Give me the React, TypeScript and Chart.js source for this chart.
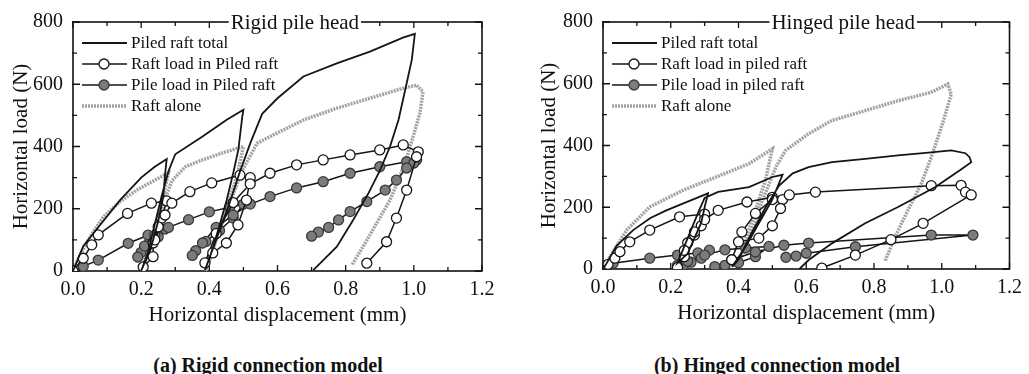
import React, { useEffect, useRef } from "react";
import { Chart, registerables } from "chart.js";
Chart.register(...registerables);

// ---------- axis ticks ----------
const xTickValues = [0, 0.2, 0.4, 0.6, 0.8, 1.0, 1.2];
const yTickValues = [0, 200, 400, 600, 800];

// ---------- series labels ----------
const rigidLabels = ["Piled raft total", "Raft load in Piled raft", "Pile load in Piled raft", "Raft alone"];
const hingedLabels = ["Piled raft total", "Raft load in piled raft", "Pile load in piled raft", "Raft alone"];

// ---------- (a) Rigid pile head ----------
const rigidTotalX = [0, 0.03, 0.07, 0.14, 0.2, 0.24, 0.275, 0.27, 0.265, 0.25, 0.23, 0.2, 0.22, 0.24, 0.26, 0.28, 0.3, 0.38, 0.45, 0.5, 0.497, 0.485, 0.47, 0.451, 0.426, 0.402, 0.387, 0.42, 0.46, 0.49, 0.52, 0.555, 0.6, 0.676, 0.774, 0.871, 0.968, 1.003, 0.994, 0.979, 0.955, 0.93, 0.901, 0.867, 0.822, 0.774, 0.705];
const rigidTotalY = [0, 80, 135, 230, 300, 335, 360, 310, 240, 160, 80, 0, 60, 150, 240, 320, 375, 432, 485, 518, 498, 389, 314, 228, 132, 46, 3, 100, 220, 320, 410, 505, 555, 625, 667, 705, 750, 762, 678, 603, 485, 399, 324, 250, 164, 78, 3];

const rigidRaftX = [0, 0.03, 0.055, 0.074, 0.16, 0.23, 0.275, 0.26, 0.25, 0.235, 0.235, 0.206, 0.24, 0.27, 0.29, 0.343, 0.407, 0.49, 0.52, 0.509, 0.484, 0.45, 0.41, 0.387, 0.42, 0.47, 0.52, 0.578, 0.656, 0.734, 0.813, 0.9, 0.969, 1.013, 1.008, 0.979, 0.949, 0.92, 0.862];
const rigidRaftY = [0, 41, 84, 116, 185, 218, 225, 170, 142, 90, 46, 13, 100, 180, 218, 255, 283, 308, 300, 228, 148, 90, 58, 26, 120, 220, 280, 314, 341, 357, 373, 389, 405, 383, 367, 260, 170, 94, 25];

const rigidPileX = [0, 0.03, 0.074, 0.162, 0.22, 0.27, 0.25, 0.22, 0.2, 0.19, 0.21, 0.24, 0.28, 0.339, 0.4, 0.46, 0.5, 0.47, 0.43, 0.39, 0.36, 0.35, 0.38, 0.42, 0.47, 0.52, 0.578, 0.656, 0.734, 0.813, 0.9, 0.979, 1.008, 1.0, 0.979, 0.949, 0.916, 0.862, 0.813, 0.779, 0.75, 0.72, 0.7];
const rigidPileY = [0, 15, 35, 89, 115, 135, 110, 85, 60, 45, 80, 115, 140, 165, 190, 205, 215, 170, 130, 95, 65, 50, 90, 140, 180, 215, 239, 267, 287, 314, 335, 351, 357, 347, 331, 292, 260, 223, 191, 164, 140, 125, 112];

const rigidAloneX = [0, 0.02, 0.05, 0.09, 0.14, 0.19, 0.24, 0.28, 0.26, 0.24, 0.22, 0.2, 0.23, 0.26, 0.29, 0.33, 0.38, 0.44, 0.5, 0.48, 0.45, 0.42, 0.39, 0.42, 0.46, 0.5, 0.54, 0.578, 0.676, 0.774, 0.871, 0.968, 1.008, 1.027, 1.018, 0.998, 0.983, 0.959, 0.93, 0.891, 0.851, 0.818];
const rigidAloneY = [0, 50, 110, 175, 225, 262, 292, 315, 220, 130, 60, 0, 100, 200, 290, 335, 357, 380, 400, 300, 200, 100, 0, 100, 220, 330, 410, 432, 485, 523, 555, 587, 597, 576, 508, 432, 378, 303, 228, 154, 78, 19];

// ---------- (b) Hinged pile head ----------
const hingedTotalX = [0, 0.011, 0.04, 0.089, 0.14, 0.187, 0.25, 0.31, 0.3, 0.29, 0.27, 0.25, 0.226, 0.22, 0.25, 0.28, 0.3, 0.34, 0.431, 0.5, 0.53, 0.499, 0.46, 0.421, 0.381, 0.4, 0.44, 0.48, 0.52, 0.56, 0.607, 0.676, 0.774, 0.871, 0.969, 1.028, 1.07, 1.082, 1.087, 1.06, 0.98, 0.871, 0.774, 0.676, 0.607, 0.58];
const hingedTotalY = [0, 19, 75, 126, 165, 190, 218, 245, 200, 150, 100, 50, 26, 20, 100, 180, 230, 250, 265, 298, 305, 223, 148, 72, 7, 30, 120, 200, 270, 310, 330, 346, 357, 368, 378, 384, 375, 362, 346, 325, 265, 201, 148, 83, 29, 0];

const hingedRaftX = [0, 0.015, 0.035, 0.05, 0.079, 0.138, 0.226, 0.3, 0.29, 0.27, 0.25, 0.24, 0.22, 0.24, 0.27, 0.3, 0.34, 0.425, 0.5, 0.53, 0.524, 0.5, 0.46, 0.4, 0.38, 0.41, 0.45, 0.5, 0.55, 0.627, 0.969, 1.057, 1.07, 1.087, 0.945, 0.85, 0.745, 0.646];
const hingedRaftY = [0, 15, 35, 56, 88, 126, 169, 178, 140, 110, 85, 40, 5, 60, 120, 160, 190, 217, 232, 225, 196, 140, 100, 88, 30, 120, 180, 225, 240, 249, 270, 271, 249, 240, 148, 95, 45, 3];

const hingedPileX = [0, 0.03, 0.138, 0.22, 0.28, 0.314, 0.29, 0.26, 0.24, 0.22, 0.25, 0.3, 0.36, 0.421, 0.49, 0.45, 0.4, 0.36, 0.33, 0.38, 0.45, 0.534, 0.607, 0.969, 1.092, 0.745, 0.6, 0.57, 0.54];
const hingedPileY = [0, 19, 35, 45, 52, 61, 35, 22, 15, 12, 25, 45, 62, 68, 73, 40, 20, 12, 8, 30, 55, 77, 84, 110, 110, 72, 51, 42, 38];

const hingedAloneX = [0, 0.021, 0.07, 0.138, 0.236, 0.334, 0.431, 0.5, 0.48, 0.45, 0.42, 0.4, 0.43, 0.47, 0.51, 0.539, 0.607, 0.676, 0.774, 0.871, 0.968, 1.018, 1.028, 1.008, 0.989, 0.969, 0.94, 0.9, 0.862, 0.832];
const hingedAloneY = [0, 40, 126, 201, 255, 298, 341, 389, 290, 190, 90, 7, 100, 220, 330, 384, 438, 481, 513, 545, 572, 599, 566, 491, 427, 362, 277, 190, 104, 24];

// ---------- helpers ----------
const zip = (xs: number[], ys: number[]) => xs.map((x, i) => ({ x, y: ys[i] }));
const SERIF = '"Liberation Serif", "Times New Roman", serif';

type PanelCfg = {
  left: number;
  width: number;
  padRight: number;
  padTop: number;
  yWidth: number;
  xHeight: number;
  yTitlePad: number;
  xTitlePad: number;
  title: string;
  titleAt: number;
  labels: string[];
  series: number[][][];
};

const panelA: PanelCfg = {
  left: 0, width: 515, padRight: 33, padTop: 22, yWidth: 73, xHeight: 69,
  yTitlePad: 9, xTitlePad: 12, title: "Rigid pile head", titleAt: 0.651,
  labels: rigidLabels,
  series: [[rigidTotalX, rigidTotalY], [rigidRaftX, rigidRaftY], [rigidPileX, rigidPileY], [rigidAloneX, rigidAloneY]],
};
const panelB: PanelCfg = {
  left: 520, width: 509, padRight: 17, padTop: 21, yWidth: 83, xHeight: 71,
  yTitlePad: 17, xTitlePad: 14, title: "Hinged pile head", titleAt: 0.709,
  labels: hingedLabels,
  series: [[hingedTotalX, hingedTotalY], [hingedRaftX, hingedRaftY], [hingedPileX, hingedPileY], [hingedAloneX, hingedAloneY]],
};

const decorPlugin = {
  id: "decor",
  beforeDatasetsDraw(chart: any) {
    const { ctx, chartArea: a, scales } = chart;
    const xs = scales.x, ys = scales.y;
    ctx.save();
    ctx.strokeStyle = "#111";
    ctx.lineWidth = 1.6;
    ctx.strokeRect(a.left, a.top, a.right - a.left, a.bottom - a.top);
    ctx.lineWidth = 1.3;
    const xMaj: number[] = xTickValues;
    const xMin: number[] = xTickValues.slice(1).map((v, i) => (v + xTickValues[i]) / 2);
    const yMaj: number[] = yTickValues;
    const yMin: number[] = yTickValues.slice(1).map((v, i) => (v + yTickValues[i]) / 2);
    const drawX = (vals: number[], len: number) => {
      vals.forEach((v) => {
        const p = xs.getPixelForValue(v);
        ctx.beginPath();
        ctx.moveTo(p, a.bottom); ctx.lineTo(p, a.bottom - len);
        ctx.moveTo(p, a.top); ctx.lineTo(p, a.top + len);
        ctx.stroke();
      });
    };
    const drawY = (vals: number[], len: number) => {
      vals.forEach((v) => {
        const p = ys.getPixelForValue(v);
        ctx.beginPath();
        ctx.moveTo(a.left - 1, p); ctx.lineTo(a.left + len, p);
        ctx.moveTo(a.right, p); ctx.lineTo(a.right - len, p);
        ctx.stroke();
      });
    };
    drawX(xMaj, 6); drawX(xMin, 4); drawY(yMaj, 7); drawY(yMin, 4);
    ctx.restore();
  },
  afterDraw(chart: any, _a: any, opts: any) {
    const { ctx, chartArea: a, scales } = chart;
    ctx.save();
    // title on the top border
    ctx.font = `21px ${SERIF}`;
    const tw = ctx.measureText(opts.title).width;
    const cx = scales.x.getPixelForValue(opts.titleAt);
    ctx.fillStyle = "#fff";
    ctx.fillRect(cx - tw / 2 - 2, a.top - 8, tw + 4, 16);
    ctx.fillStyle = "#111";
    ctx.textAlign = "center";
    ctx.textBaseline = "middle";
    ctx.fillText(opts.title, cx, a.top + 1);
    // legend
    const x0 = a.left + 9;
    ctx.textAlign = "left";
    ctx.font = `17px ${SERIF}`;
    chart.data.datasets.forEach((ds: any, i: number) => {
      const y = a.top + 21 + i * 21;
      ctx.save();
      ctx.strokeStyle = ds.borderColor;
      ctx.lineWidth = ds.borderWidth;
      ctx.setLineDash(ds.borderDash || []);
      ctx.beginPath();
      ctx.moveTo(x0, y); ctx.lineTo(x0 + 45, y);
      ctx.stroke();
      ctx.setLineDash([]);
      if (ds.pointRadius > 0) {
        ctx.beginPath();
        ctx.arc(x0 + 22, y, ds.pointRadius, 0, Math.PI * 2);
        ctx.fillStyle = ds.pointBackgroundColor;
        ctx.fill();
        ctx.lineWidth = ds.pointBorderWidth;
        ctx.strokeStyle = ds.pointBorderColor;
        ctx.stroke();
      }
      ctx.restore();
      ctx.fillStyle = "#111";
      ctx.fillText(ds.label, x0 + 49, y + 1);
    });
    ctx.restore();
  },
};

function buildChart(canvas: HTMLCanvasElement, cfg: PanelCfg) {
  const [tot, raft, pile, alone] = cfg.series;
  return new Chart(canvas, {
    type: "scatter",
    data: {
      datasets: [
        { label: cfg.labels[0], data: zip(tot[0], tot[1]), showLine: true, borderColor: "#151515", borderWidth: 1.8, pointRadius: 0, tension: 0 },
        { label: cfg.labels[1], data: zip(raft[0], raft[1]), showLine: true, borderColor: "#151515", borderWidth: 1.5, pointRadius: 5, pointBackgroundColor: "#ffffff", pointBorderColor: "#151515", pointBorderWidth: 1.3, tension: 0 },
        { label: cfg.labels[2], data: zip(pile[0], pile[1]), showLine: true, borderColor: "#151515", borderWidth: 1.5, pointRadius: 5, pointBackgroundColor: "#7c7c7c", pointBorderColor: "#3a3a3a", pointBorderWidth: 1.3, tension: 0 },
        { label: cfg.labels[3], data: zip(alone[0], alone[1]), showLine: true, borderColor: "#a2a2a2", borderWidth: 3.5, borderDash: [2, 1], pointRadius: 0, tension: 0 },
      ] as any,
    },
    options: {
      responsive: false,
      animation: false,
      devicePixelRatio: 1,
      layout: { padding: { left: 0, right: cfg.padRight, top: cfg.padTop, bottom: 0 } },
      plugins: {
        legend: { display: false },
        tooltip: { enabled: false },
        decor: { title: cfg.title, titleAt: cfg.titleAt },
      } as any,
      scales: {
        x: {
          type: "linear",
          min: 0,
          max: 1.2,
          afterBuildTicks: (s: any) => { s.ticks = xTickValues.map((v) => ({ value: v })); },
          afterFit: (s: any) => { s.height = cfg.xHeight; },
          ticks: { color: "#111", font: { family: SERIF, size: 20 }, padding: 7, callback: (v: any) => Number(v).toFixed(1) },
          grid: { display: false, drawTicks: false },
          border: { display: false },
          title: { display: true, text: "Horizontal displacement (mm)", color: "#111", font: { family: SERIF, size: 21 }, padding: { top: 0, bottom: cfg.xTitlePad } },
        },
        y: {
          type: "linear",
          min: 0,
          max: 800,
          afterBuildTicks: (s: any) => { s.ticks = yTickValues.map((v) => ({ value: v })); },
          afterFit: (s: any) => { s.width = cfg.yWidth; },
          ticks: { color: "#111", font: { family: SERIF, size: 20 }, padding: 10 },
          grid: { display: false, drawTicks: false },
          border: { display: false },
          title: { display: true, text: "Horizontal load (N)", color: "#111", font: { family: SERIF, size: 21 }, padding: { top: cfg.yTitlePad, bottom: 0 } },
        },
      },
    } as any,
    plugins: [decorPlugin as any],
  });
}

function Panel({ cfg }: { cfg: PanelCfg }) {
  const ref = useRef<HTMLCanvasElement | null>(null);
  useEffect(() => {
    let chart: Chart | null = null;
    let cancelled = false;
    const make = () => {
      if (cancelled || !ref.current) return;
      chart = buildChart(ref.current, cfg);
    };
    const fonts: any = (document as any).fonts;
    if (fonts && fonts.load) {
      Promise.all([
        fonts.load(`20px "Liberation Serif"`),
        fonts.load(`bold 20px "Liberation Serif"`),
      ]).then(make, make);
    } else {
      make();
    }
    return () => {
      cancelled = true;
      if (chart) chart.destroy();
    };
  }, [cfg]);
  return (
    <canvas
      ref={ref}
      width={cfg.width}
      height={340}
      style={{ position: "absolute", left: cfg.left, top: 0, width: cfg.width, height: 340 }}
    />
  );
}

const captionStyle: React.CSSProperties = {
  position: "absolute",
  top: 353,
  width: 400,
  textAlign: "center",
  fontFamily: SERIF,
  fontWeight: "bold",
  fontSize: 20,
  lineHeight: "24px",
  color: "#111",
};

export default function App() {
  return (
    <div style={{ position: "absolute", left: 0, top: 0, width: 1029, height: 374, background: "#fff", overflow: "hidden" }}>
      <Panel cfg={panelA} />
      <Panel cfg={panelB} />
      <div style={{ ...captionStyle, left: 268 - 200 }}>(a) Rigid connection model</div>
      <div style={{ ...captionStyle, left: 777 - 200 }}>(b) Hinged connection model</div>
    </div>
  );
}
